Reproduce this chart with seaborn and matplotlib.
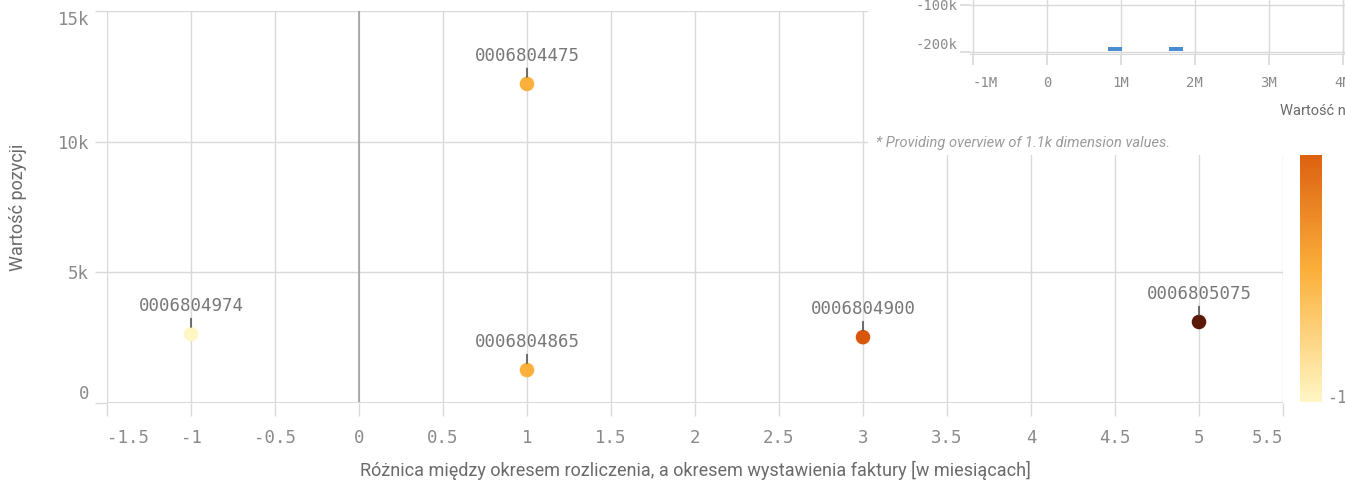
import numpy as np
import pandas as pd
import seaborn as sns
import matplotlib
matplotlib.use('Agg')
import matplotlib.pyplot as plt
from matplotlib.colors import LinearSegmentedColormap, Normalize
from matplotlib.patches import Rectangle

# dane wykresu
invoice_ids = ['0006804974', '0006804475', '0006804865', '0006804900', '0006805075']
month_diff = [-1, 1, 1, 3, 5]
item_value = [2640, 12210, 1260, 2520, 3100]

# mini-wykres przeglądowy (prawy górny róg)
overview_x = [0.92e6, 1.75e6]
overview_y = [-194000, -194000]

df = pd.DataFrame({'faktura': invoice_ids, 'roznica': month_diff, 'wartosc': item_value})

sns.set_theme(style='whitegrid')
plt.rcParams['font.family'] = ['DejaVu Sans Mono']

mono = 'DejaVu Sans Mono'
sans = 'Roboto'
tick_color = '#8a8a8a'
title_color = '#6a6a6a'
grid_color = '#d9d9d9'

cmap = LinearSegmentedColormap.from_list(
    'qlik', [(0.0, '#fff6c4'), (1 / 3, '#fbb03b'), (2 / 3, '#d9570b'), (1.0, '#5a1904')])
norm = Normalize(vmin=-1, vmax=5)

fig = plt.figure(figsize=(13.45, 4.83), dpi=100)
ax = fig.add_axes([107 / 1345, 1 - 403 / 483, (1283 - 107) / 1345, 392 / 483])

sns.scatterplot(data=df, x='roznica', y='wartosc', hue='roznica', palette=cmap,
                hue_norm=norm, s=110, linewidth=0, legend=False, ax=ax, zorder=3)

for fid, xv, yv in zip(invoice_ids, month_diff, item_value):
    ax.annotate(fid, xy=(xv, yv), xytext=(0, 20), textcoords='offset points',
                ha='center', va='center', fontsize=12.5, family=mono, color='#777777',
                arrowprops=dict(arrowstyle='-', color='#555555', lw=1.2, shrinkA=0, shrinkB=5),
                zorder=4)

ax.set_xlim(-1.5, 5.5)
ax.set_ylim(0, 15000)
ax.set_xticks(np.arange(-1.5, 5.51, 0.5))
ax.set_yticks([0, 5000, 10000, 15000])
ax.set_xticklabels(['{:g}'.format(v) for v in np.arange(-1.5, 5.51, 0.5)])
ax.set_yticklabels(['0', '5k', '10k', '15k'])
xt = ax.get_xticklabels()
xt[0].set_ha('left')
xt[-1].set_ha('right')
yt = ax.get_yticklabels()
yt[0].set_va('bottom')
yt[-1].set_va('top')

ax.grid(True, color=grid_color, linewidth=1)
ax.axvline(0, color='#9a9a9a', linewidth=1.1, zorder=2)
for s in ax.spines.values():
    s.set_visible(False)
ax.axhline(0, color=grid_color, linewidth=1.5, zorder=2)
ax.tick_params(axis='both', bottom=True, left=True, length=9, width=1, color=grid_color,
               labelcolor=tick_color, labelsize=12.5, direction='out')
ax.tick_params(axis='x', pad=10)
ax.tick_params(axis='y', pad=4)
ax.set_xlabel('Różnica między okresem rozliczenia, a okresem wystawienia faktury [w miesiącach]',
              family=sans, fontsize=13, color=title_color, labelpad=10)
ax.set_ylabel('Wartość pozycji', family=sans, fontsize=13, color=title_color, labelpad=22)

# legenda kolorów
cax = fig.add_axes([1300 / 1345, 1 - 402 / 483, 22 / 1345, 392 / 483])
sm = plt.cm.ScalarMappable(norm=norm, cmap=cmap)
cb = fig.colorbar(sm, cax=cax)
cb.outline.set_visible(False)
cb.set_ticks([])
cax.text(1.25, 0.01, '-1', transform=cax.transAxes, ha='left', va='center',
         fontsize=12, family=mono, color=tick_color)

# okienko przeglądu
fig.patches.append(Rectangle((868 / 1345, 1 - 155 / 483), 477 / 1345, 155 / 483,
                             transform=fig.transFigure, facecolor='white',
                             edgecolor='none', zorder=1))
iax = fig.add_axes([970 / 1345, 1 - 55 / 483, 375 / 1345, 55 / 483], zorder=2)
iax.scatter(overview_x, overview_y, marker=[(-3.5, -1), (3.5, -1), (3.5, 1), (-3.5, 1)],
            s=110, color='#4a8cd0', linewidth=0, zorder=3)
iax.set_xlim(-1.04e6, 4.03e6)
iax.set_ylim(-206500, -89500)
iax.set_xticks([-1e6, 0, 1e6, 2e6, 3e6, 4e6])
iax.set_xticklabels(['-1M', '0', '1M', '2M', '3M', '4M'])
iax.set_yticks([-200000, -100000])
iax.set_yticklabels(['-200k', '-100k'])
iax.get_xticklabels()[0].set_ha('left')
iax.get_yticklabels()[0].set_va('bottom')
iax.set_facecolor('white')
iax.grid(True, color=grid_color, linewidth=1)
for s in iax.spines.values():
    s.set_visible(False)
iax.axhline(-206000, color=grid_color, linewidth=1.5)
iax.axvline(4.0e6, color=grid_color, linewidth=1)
iax.tick_params(axis='both', bottom=True, left=True, length=7, color=grid_color,
                labelcolor=tick_color, labelsize=10)
iax.tick_params(axis='x', pad=8)
iax.tick_params(axis='y', pad=2)
fig.text(1280 / 1345, 1 - 111 / 483, 'Wartość netto', family=sans, fontsize=10.5,
         color=title_color, ha='left', va='center', zorder=3)
fig.text(876 / 1345, 1 - 143 / 483, '* Providing overview of 1.1k dimension values.',
         family=sans, style='italic', fontsize=10.5, color='#9a9a9a', ha='left',
         va='center', zorder=3)

plt.savefig('out.png', dpi=100, facecolor='white')
plt.close()
